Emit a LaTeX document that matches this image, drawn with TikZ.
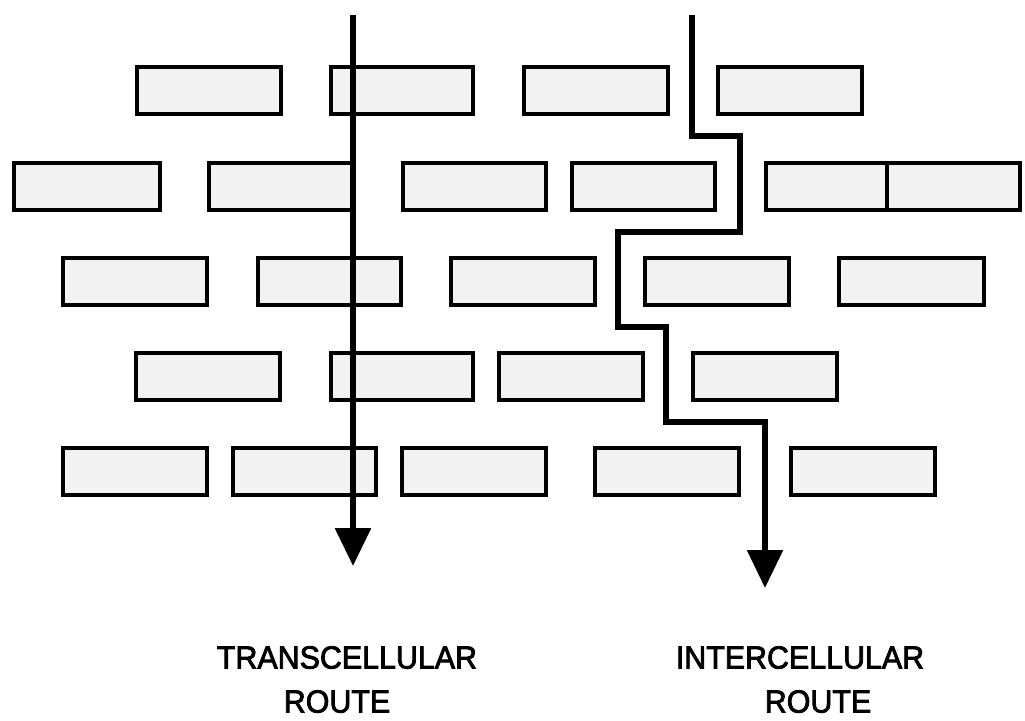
\documentclass[tikz,border=0pt]{standalone}
\usepackage{fontspec}
\setmainfont{Liberation Sans}
\newfontfamily\routefont[FakeStretch=0.95, FakeBold=2.5]{Liberation Sans}
\usetikzlibrary{arrows.meta}
\tikzset{
  cell/.style={draw=black, line width=4pt, fill=black!5, rectangle, inner sep=0pt, minimum height=47pt},
  route/.style={line width=5.5pt, line join=miter, -{Triangle[width=35pt,length=38pt]}},
  label/.style={font=\routefont\fontsize{32}{44}\selectfont, align=center, inner sep=0pt, anchor=north}
}
\begin{document}
\begin{tikzpicture}[x=1pt,y=-1pt]
\useasboundingbox (0,0) rectangle (1025,720);
% row 1
\foreach \n/\a/\b in {r1a/137/281, r1b/331/473, r1c/524/668, r1d/718/862}
  \node[cell, minimum width={\b-\a}] (\n) at ({(\a+\b)/2},90.5) {};
% row 2
\foreach \n/\a/\b in {r2a/14/160, r2b/209/352, r2c/403/546, r2d/572/715, r2e/766/887, r2f/887/1020}
  \node[cell, minimum width={\b-\a}] (\n) at ({(\a+\b)/2},186.5) {};
% row 3
\foreach \n/\a/\b in {r3a/63/207, r3b/258/401, r3c/451/595, r3d/645/789, r3e/839/984}
  \node[cell, minimum width={\b-\a}] (\n) at ({(\a+\b)/2},281.5) {};
% row 4
\foreach \n/\a/\b in {r4a/136/280, r4b/331/473, r4c/499/643, r4d/693/837}
  \node[cell, minimum width={\b-\a}] (\n) at ({(\a+\b)/2},376.5) {};
% row 5
\foreach \n/\a/\b in {r5a/63/207, r5b/233/376, r5c/402/546, r5d/595/739, r5e/791/935}
  \node[cell, minimum width={\b-\a}] (\n) at ({(\a+\b)/2},471.5) {};

% routes
\coordinate (tStart) at (353,15);
\coordinate (tEnd) at (353,566);
\coordinate (iStart) at (692,15);
\coordinate (iEnd) at (765,588);
\draw[route, line width=6pt] (tStart) -- (tEnd);
\draw[route] (iStart) -- (692,136) -- (740,136) -- (740,232) -- (618,232) -- (618,327)
  -- (666,327) -- (666,422) -- (765,422) -- (iEnd);

% labels
\node[label] (tlab) at (347,646) {TRANSCELLULAR\\\hspace*{-20pt}ROUTE};
\node[label] (ilab) at (800,646) {INTERCELLULAR\\\hspace*{36pt}ROUTE};
\end{tikzpicture}
\end{document}
